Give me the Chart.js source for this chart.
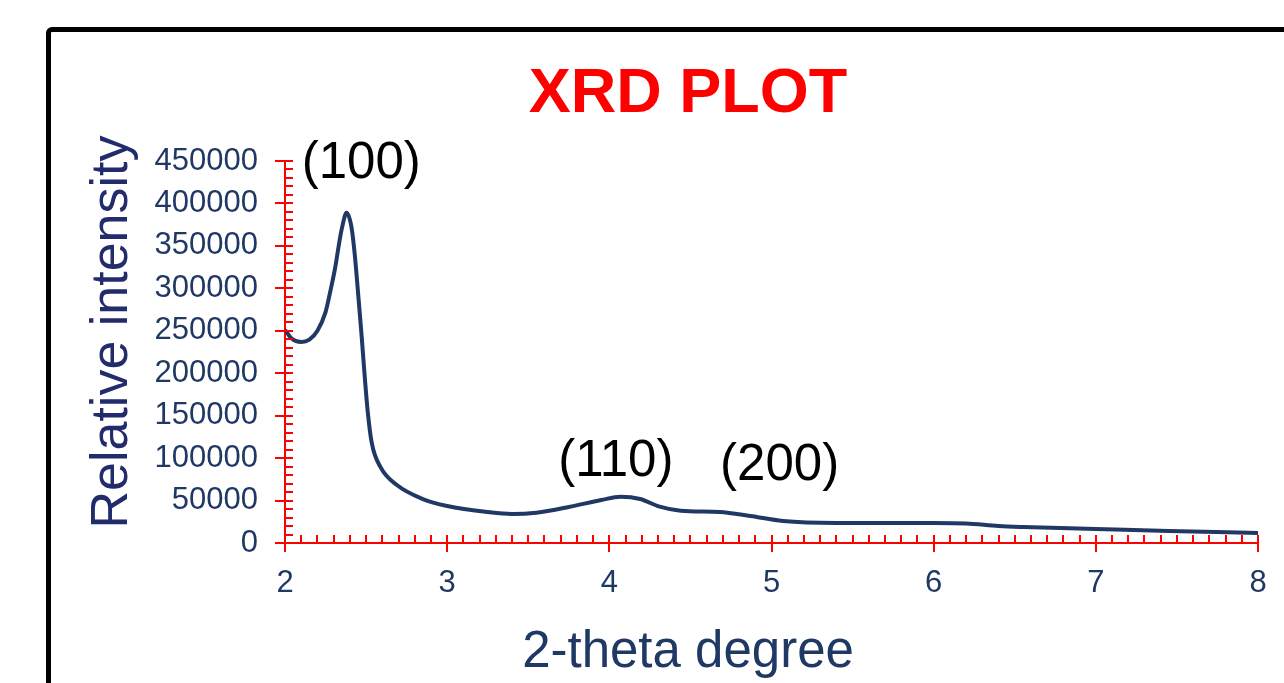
<!DOCTYPE html>
<html><head><meta charset="utf-8">
<script src="https://cdn.jsdelivr.net/npm/chart.js@4/dist/chart.umd.min.js"></script>
<style>
html,body{margin:0;padding:0;background:#fff;overflow:hidden;}
#wrap{position:relative;width:1284px;height:683px;overflow:hidden;}
#frame{position:absolute;left:46px;top:27px;width:1400px;height:900px;border:5px solid #000;border-radius:6px;box-sizing:border-box;}
canvas{position:absolute;left:0;top:0;}
</style></head><body>
<div id="wrap"><div id="frame"></div><canvas id="c" width="1284" height="683"></canvas></div>
<script>
const chartTitle = 'XRD PLOT';
const xTitle = '2-theta degree';
const yTitle = 'Relative intensity';

const twoTheta = [2.00,2.04,2.10,2.15,2.20,2.25,2.28,2.31,2.33,2.35,2.38,2.41,2.43,2.45,2.47,2.49,2.51,2.535,2.59,2.69,2.85,3.00,3.25,3.40,3.55,3.75,3.95,4.07,4.19,4.31,4.44,4.68,4.87,5.07,5.40,6.00,6.20,6.40,6.55,7.00,7.45,8.00];
const intensity = [251000,241000,236800,239500,250000,272000,297000,325000,348700,370000,389000,372000,340000,296000,250000,200000,155000,118000,89000,68300,51800,43600,36500,34200,35700,42400,50700,54500,51800,42800,38000,36500,31800,25900,23600,23600,23000,20000,18800,16500,14100,11800];

const peakLabels = ['(100)','(110)','(200)'];
const peakLabelX = [2.47, 4.04, 5.05];
const peakLabelY = [451000, 100000, 95400];

const xMin = 2, xMax = 8, xStep = 1, xMinorStep = 0.1;
const yMin = 0, yMax = 450000, yStep = 50000, yMinorStep = 10000;

const FONT = '"Liberation Sans", Arial, sans-serif';
const NAVY = '#1f3864';
const INDIGO = '#222b6c';
const AXIS_RED = '#ff0000';

const minorTicks = {
  id: 'minorTicks',
  afterDatasetsDraw(chart) {
    const ctx = chart.ctx, xs = chart.scales.x, ys = chart.scales.y;
    const area = chart.chartArea;
    ctx.save();
    ctx.strokeStyle = AXIS_RED;
    ctx.lineWidth = 2;
    ctx.beginPath();
    const nx = Math.round((xMax - xMin) / xMinorStep);
    for (let i = 0; i <= nx; i++) {
      const px = Math.round(xs.getPixelForValue(xMin + i * xMinorStep));
      ctx.moveTo(px, area.bottom);
      ctx.lineTo(px, area.bottom - 8);
    }
    const ny = Math.round((yMax - yMin) / yMinorStep);
    for (let i = 0; i <= ny; i++) {
      const py = Math.round(ys.getPixelForValue(yMin + i * yMinorStep));
      ctx.moveTo(area.left, py);
      ctx.lineTo(area.left + 8, py);
    }
    ctx.stroke();
    ctx.restore();
  }
};

const textLayer = {
  id: 'textLayer',
  afterDraw(chart) {
    const ctx = chart.ctx, xs = chart.scales.x, ys = chart.scales.y;
    ctx.save();
    ctx.textAlign = 'center';
    ctx.textBaseline = 'alphabetic';
    ctx.fillStyle = AXIS_RED;
    ctx.font = 'bold 63px ' + FONT;
    ctx.fillText(chartTitle, 688, 112);
    ctx.fillStyle = NAVY;
    ctx.font = '51px ' + FONT;
    ctx.fillText(xTitle, 688, 667);
    ctx.save();
    ctx.translate(127, 332);
    ctx.rotate(-Math.PI / 2);
    ctx.fillStyle = INDIGO;
    ctx.font = '52px ' + FONT;
    ctx.fillText(yTitle, 0, 0);
    ctx.restore();
    ctx.fillStyle = '#000';
    const fs = 51;
    ctx.font = fs + 'px ' + FONT;
    peakLabels.forEach((t, i) => {
      const px = xs.getPixelForValue(peakLabelX[i]);
      const py = ys.getPixelForValue(peakLabelY[i]);
      ctx.fillText(t, px, py + 0.358 * fs);
    });
    ctx.restore();
  }
};

new Chart(document.getElementById('c'), {
  type: 'line',
  data: {
    datasets: [{
      data: twoTheta.map((x, i) => ({x: x, y: intensity[i]})),
      borderColor: NAVY,
      borderWidth: 4,
      pointRadius: 0,
      fill: false,
      cubicInterpolationMode: 'monotone'
    }]
  },
  options: {
    responsive: false,
    animation: false,
    devicePixelRatio: 1,
    layout: {padding: {top: 161, right: 26, bottom: 0, left: 0}},
    plugins: {legend: {display: false}, title: {display: false}, tooltip: {enabled: false}},
    scales: {
      x: {
        type: 'linear', min: xMin, max: xMax,
        ticks: {stepSize: xStep, color: NAVY, font: {family: FONT, size: 31}, padding: 13, maxRotation: 0},
        grid: {drawOnChartArea: false, drawTicks: true, tickLength: 9, color: AXIS_RED, lineWidth: 2},
        border: {display: true, color: AXIS_RED, width: 2},
        title: {display: false, text: xTitle},
        afterFit: s => { s.height = 140; }
      },
      y: {
        type: 'linear', min: yMin, max: yMax,
        ticks: {stepSize: yStep, color: NAVY, font: {family: FONT, size: 31}, padding: 17, callback: v => String(v)},
        grid: {drawOnChartArea: false, drawTicks: true, tickLength: 10, color: AXIS_RED, lineWidth: 2},
        border: {display: true, color: AXIS_RED, width: 2},
        title: {display: false, text: yTitle},
        afterFit: s => { s.width = 285; }
      }
    }
  },
  plugins: [minorTicks, textLayer]
});
</script>
</body></html>
